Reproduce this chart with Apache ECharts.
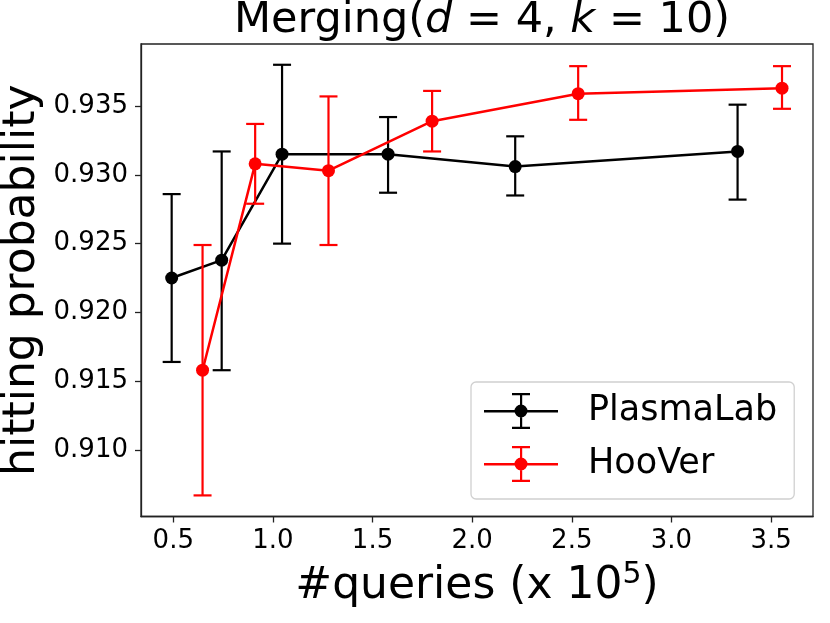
<!DOCTYPE html>
<html>
<head>
    <meta charset="UTF-8">
    <title>Merging (d = 4, k = 10)</title>
</head>
<body style="margin:0;background:#fff;">
    <div id="main" style="width: 830px;height:623px;"></div>
    <script src="https://cdn.jsdelivr.net/npm/echarts@6/dist/echarts.min.js"></script>
    <script type="text/javascript">
        // values (x in 1e5 queries)
        var plasmaX    = [0.492, 0.743, 1.046, 1.578, 2.216, 3.332];
        var plasmaMean = [0.9225, 0.9238, 0.9315, 0.9315, 0.9306, 0.9317];
        var plasmaLow  = [0.9164, 0.9158, 0.9250, 0.9287, 0.9285, 0.9282];
        var plasmaHigh = [0.9286, 0.9317, 0.9380, 0.9342, 0.9328, 0.9351];

        var hooverX    = [0.647, 0.911, 1.279, 1.799, 2.532, 3.555];
        var hooverMean = [0.9158, 0.9308, 0.9303, 0.9339, 0.9359, 0.9363];
        var hooverLow  = [0.9067, 0.9279, 0.9249, 0.9317, 0.9340, 0.9348];
        var hooverHigh = [0.9249, 0.9337, 0.9357, 0.9361, 0.9379, 0.9379];

        var xTicks = [0.5, 1.0, 1.5, 2.0, 2.5, 3.0, 3.5];
        var yTicks = [0.910, 0.915, 0.920, 0.925, 0.930, 0.935];

        var FONT = 'DejaVu Sans';

        function zip(a, b) {
            return a.map(function (v, i) { return [v, b[i]]; });
        }
        function zip3(a, b, c) {
            return a.map(function (v, i) { return [v, b[i], c[i]]; });
        }

        // vertical bar with caps, drawn through the axes
        function errorBar(color) {
            return function (params, api) {
                var top = api.coord([api.value(0), api.value(2)]);
                var bot = api.coord([api.value(0), api.value(1)]);
                var half = 9;
                var st = { stroke: color, lineWidth: 2.2 };
                return {
                    type: 'group',
                    children: [
                        { type: 'line', shape: { x1: top[0], y1: top[1], x2: bot[0], y2: bot[1] }, style: st },
                        { type: 'line', shape: { x1: top[0] - half, y1: top[1], x2: top[0] + half, y2: top[1] }, style: st },
                        { type: 'line', shape: { x1: bot[0] - half, y1: bot[1], x2: bot[0] + half, y2: bot[1] }, style: st }
                    ]
                };
            };
        }

        // legend glyph: line + marker + error bar
        var errIcon = 'path://M0 17H74V19.5H0Z M36 0H38.2V36H36Z M28 0H46V2.2H28Z M28 33.8H46V36H28Z ' +
            'M30.5 18A6.5 6.5 0 1 1 43.5 18A6.5 6.5 0 1 1 30.5 18Z';

        var myChart = echarts.init(document.getElementById('main'));

        var option = {
            backgroundColor: '#fff',
            animation: false,
            title: {
                text: '{n|Merging(}{i|d}{n| = 4, }{i|k}{n| = 10)}',
                left: 477,
                top: -6,
                textAlign: 'center',
                textStyle: {
                    fontWeight: 'normal',
                    rich: {
                        n: { fontFamily: FONT, fontSize: 43, fontWeight: 'normal', color: '#000' },
                        i: { fontFamily: FONT, fontSize: 43, fontWeight: 'normal', fontStyle: 'italic', color: '#000' }
                    }
                }
            },
            grid: {
                left: 141, right: 17, top: 44, bottom: 106.5,
                containLabel: false,
                outerBoundsMode: 'none',
                show: true, borderColor: '#222', borderWidth: 1.3
            },
            legend: {
                orient: 'vertical',
                left: 471, top: 382,
                itemWidth: 74, itemHeight: 36, itemGap: 17,
                padding: [11, 17, 17, 13],
                backgroundColor: 'rgba(255,255,255,0.8)',
                borderColor: '#d0d0d0', borderWidth: 1.3, borderRadius: 5,
                itemStyle: { borderWidth: 0 },
                textStyle: { fontFamily: FONT, fontSize: 35, color: '#000', lineHeight: 36, padding: [0, 0, 0, 25] },
                data: [
                    { name: 'PlasmaLab', icon: errIcon },
                    { name: 'HooVer', icon: errIcon }
                ]
            },
            xAxis: {
                type: 'value',
                min: 0.3381, max: 3.7105,
                name: '{n|#queries (x 10}{s|5}{n|)}',
                nameLocation: 'middle',
                nameGap: 44,
                nameMoveOverlap: false,
                nameTextStyle: {
                    rich: {
                        n: { fontFamily: FONT, fontSize: 44, lineHeight: 52, color: '#000' },
                        s: { fontFamily: FONT, fontSize: 30, lineHeight: 30, verticalAlign: 'top', color: '#000' }
                    }
                },
                axisLine: { show: true, lineStyle: { color: '#222', width: 1.3 } },
                axisTick: { show: true, length: 6, customValues: xTicks, lineStyle: { color: '#222', width: 1.3 } },
                axisLabel: {
                    customValues: xTicks,
                    margin: 12,
                    fontFamily: FONT, fontSize: 26, color: '#000',
                    formatter: function (v) { return v.toFixed(1); }
                },
                splitLine: { show: false }
            },
            yAxis: {
                type: 'value',
                min: 0.905167, max: 0.93951,
                name: 'hitting probability',
                nameLocation: 'middle',
                nameGap: 96,
                nameMoveOverlap: false,
                nameTextStyle: { fontFamily: FONT, fontSize: 44, color: '#000' },
                axisLine: { show: true, lineStyle: { color: '#222', width: 1.3 } },
                axisTick: { show: true, length: 6, customValues: yTicks, lineStyle: { color: '#222', width: 1.3 } },
                axisLabel: {
                    customValues: yTicks,
                    margin: 13,
                    fontFamily: FONT, fontSize: 26, color: '#000',
                    formatter: function (v) { return v.toFixed(3); }
                },
                splitLine: { show: false }
            },
            series: [
                {
                    name: 'PlasmaLab err',
                    type: 'custom',
                    renderItem: errorBar('#000'),
                    data: zip3(plasmaX, plasmaLow, plasmaHigh),
                    encode: { x: 0, y: [1, 2] },
                    z: 2, silent: true
                },
                {
                    name: 'PlasmaLab',
                    type: 'line',
                    data: zip(plasmaX, plasmaMean),
                    color: '#000',
                    symbol: 'circle', symbolSize: 13,
                    lineStyle: { color: '#000', width: 2.5 },
                    itemStyle: { color: '#000' },
                    z: 3
                },
                {
                    name: 'HooVer err',
                    type: 'custom',
                    renderItem: errorBar('#ff0000'),
                    data: zip3(hooverX, hooverLow, hooverHigh),
                    encode: { x: 0, y: [1, 2] },
                    z: 4, silent: true
                },
                {
                    name: 'HooVer',
                    type: 'line',
                    data: zip(hooverX, hooverMean),
                    color: '#ff0000',
                    symbol: 'circle', symbolSize: 13,
                    lineStyle: { color: '#ff0000', width: 2.5 },
                    itemStyle: { color: '#ff0000' },
                    z: 5
                }
            ]
        };

        myChart.setOption(option);
    </script>
</body>
</html>
